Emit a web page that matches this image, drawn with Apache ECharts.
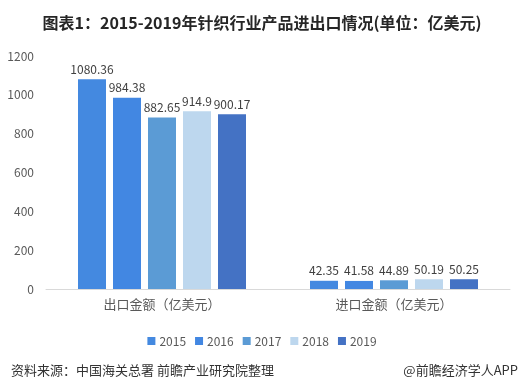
<!DOCTYPE html>
<html><head><meta charset="utf-8">
<script src="https://cdn.jsdelivr.net/npm/echarts@6/dist/echarts.min.js"></script>
<style>html,body{margin:0;padding:0;background:#fff;}#c{width:524px;height:392px;}</style>
</head><body><div id="c"></div>
<script>
const categories = ['出口金额（亿美元）', '进口金额（亿美元）'];
const years = ['2015', '2016', '2017', '2018', '2019'];
const v2015 = [1080.36, 42.35];
const v2016 = [984.38, 41.58];
const v2017 = [882.65, 44.89];
const v2018 = [914.9, 50.19];
const v2019 = [900.17, 50.25];
const yTicks = [0, 200, 400, 600, 800, 1000, 1200];
const colors = ['#4489e0', '#4287e2', '#5b9bd5', '#bdd7ee', '#4472c4'];
const values = [v2015, v2016, v2017, v2018, v2019];
const font = 'Microsoft YaHei, "Noto Sans CJK SC", sans-serif';

const chart = echarts.init(document.getElementById('c'));
chart.setOption({
  animation: false,
  color: colors,
  title: [{
    text: '图表1：2015-2019年针织行业产品进出口情况(单位：亿美元)',
    left: 'center', top: 10,
    textStyle: {fontSize: 16, fontWeight: 'bold', color: '#262626', fontFamily: font}
  }, {
    text: '资料来源：中国海关总署 前瞻产业研究院整理',
    left: 6, top: 359,
    textStyle: {fontSize: 13, fontWeight: 'normal', color: '#333', fontFamily: font}
  }, {
    text: '@前瞻经济学人APP',
    right: 1, top: 359,
    textStyle: {fontSize: 13, fontWeight: 'normal', color: '#333', fontFamily: font}
  }],
  legend: {
    data: years, top: 330, left: 'center',
    itemWidth: 8, itemHeight: 8, itemGap: 9, icon: 'rect',
    textStyle: {fontSize: 12, color: '#595959', fontFamily: font, padding: [0, 0, 0, -1]}
  },
  grid: {left: 46, right: 14, top: 56, bottom: 103},
  xAxis: {
    type: 'category', data: categories,
    axisLine: {lineStyle: {color: '#d9d9d9'}},
    axisTick: {show: false},
    axisLabel: {fontSize: 13, color: '#595959', margin: 9, fontFamily: font}
  },
  yAxis: {
    type: 'value', min: 0, max: 1200, interval: 200,
    axisLine: {show: false}, axisTick: {show: false},
    splitLine: {show: false},
    axisLabel: {fontSize: 12, color: '#595959', margin: 12, fontFamily: font,
      formatter: v => String(v)}
  },
  series: years.map((y, i) => ({
    name: y, type: 'bar', data: values[i],
    barWidth: 28, barGap: '25%',
    label: {show: true, position: 'top', distance: 4, fontSize: 12, color: '#404040', fontFamily: font}
  }))
});
</script></body></html>
